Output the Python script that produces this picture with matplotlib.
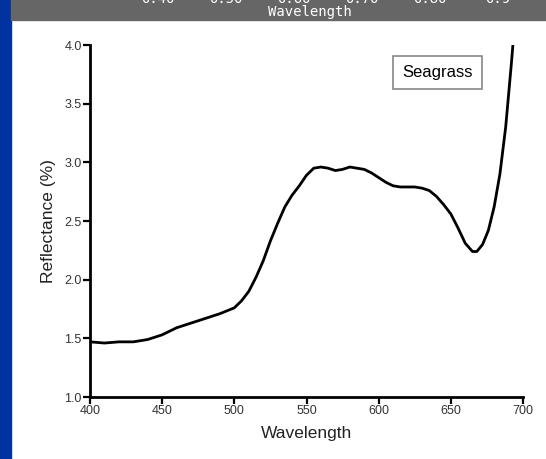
#!/usr/bin/env python3

"""
Seagrass reflectance spectrum, redrawn from a slide screenshot.
"""

import numpy as np
import matplotlib
matplotlib.use("Agg")
import matplotlib.pyplot as plt
from matplotlib.patches import Rectangle

# Spectrum (wavelength in nm, reflectance in %)
wavelength = [400, 410, 420, 430, 440, 450, 460, 470, 480, 490, 500, 505, 510,
              515, 520, 525, 530, 535, 540, 545, 550, 555, 560, 565, 570, 575,
              580, 585, 590, 595, 600, 605, 610, 615, 620, 625, 630, 635, 640,
              645, 650, 655, 660, 665, 668, 672, 676, 680, 684, 688, 692, 695]
reflectance = [1.47, 1.46, 1.47, 1.47, 1.49, 1.53, 1.59, 1.63, 1.67, 1.71, 1.76,
               1.82, 1.90, 2.02, 2.16, 2.33, 2.48, 2.62, 2.72, 2.80, 2.89, 2.95,
               2.96, 2.95, 2.93, 2.94, 2.96, 2.95, 2.94, 2.91, 2.87, 2.83, 2.80,
               2.79, 2.79, 2.79, 2.78, 2.76, 2.71, 2.64, 2.56, 2.44, 2.31, 2.24,
               2.24, 2.30, 2.42, 2.62, 2.90, 3.30, 3.85, 4.3]

x_ticks = [400, 450, 500, 550, 600, 650, 700]
y_ticks = [1.0, 1.5, 2.0, 2.5, 3.0, 3.5, 4.0]

# cut-off tick labels of the chart above, visible in the grey strip
top_ticks = ["0.40", "0.50", "0.60", "0.70", "0.80", "0.9"]

plt.rcParams["font.family"] = ["Liberation Sans", "DejaVu Sans"]

fig = plt.figure(figsize=(5.46, 4.59), dpi=100)
fig.patch.set_facecolor("white")

# slide decoration: blue strip on the left, grey strip on top
fig.patches.append(Rectangle((0, 0), 11 / 546, 1, transform=fig.transFigure,
                             color="#0033a0", zorder=0))
fig.patches.append(Rectangle((11 / 546, 1 - 20 / 459), 1, 20 / 459,
                             transform=fig.transFigure, color="#666666", zorder=0))
fig.text(310 / 546, 1 - 12 / 459, "Wavelength", color="white", fontsize=10,
         family="DejaVu Sans Mono", ha="center", va="center")
for i, lab in enumerate(top_ticks):
    fig.text((158 + 68 * i) / 546, 1 + 1 / 459, lab, color="white", fontsize=10,
             family="DejaVu Sans Mono", ha="center", va="center")

ax = fig.add_axes([90 / 546, 62 / 459, 433 / 546, 352 / 459])
ax.plot(wavelength, reflectance, color="black", lw=2.0, clip_on=True)

ax.set_xlim(400, 700)
ax.set_ylim(1.0, 4.0)
ax.set_xticks(x_ticks)
ax.set_yticks(y_ticks)
ax.set_yticklabels([f"{v:.1f}" for v in y_ticks])

for side in ["top", "right"]:
    ax.spines[side].set_visible(False)
for side in ["left", "bottom"]:
    ax.spines[side].set_linewidth(2.0)
ax.tick_params(direction="out", length=5, width=1.6, labelsize=9,
               labelcolor="#333333", pad=1)

ax.set_xlabel("Wavelength", fontsize=12.5, color="#222222", labelpad=6)
ax.set_ylabel("Reflectance (%)", fontsize=12.5, color="#222222", labelpad=6)

ax.text(0.802, 0.921, "Seagrass", transform=ax.transAxes, fontsize=12,
        ha="center", va="center",
        bbox=dict(boxstyle="square,pad=0.55", fc="white", ec="#888888", lw=1.2))

fig.savefig("out.png", dpi=100)
